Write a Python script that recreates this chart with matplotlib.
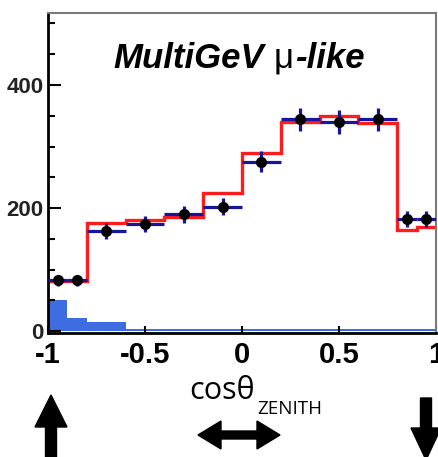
import matplotlib
matplotlib.use('Agg')
import numpy as np
import matplotlib.pyplot as plt
from matplotlib.patches import Polygon

# bin edges in cos(zenith)
edges = [-1.0, -0.9, -0.8, -0.6, -0.4, -0.2, 0.0, 0.2, 0.4, 0.6, 0.8, 0.9, 1.0]

# data points (events) with statistical errors
data = [83, 83, 163, 174, 190, 202, 275, 344, 340, 344, 183, 183]
data_err = [9, 9, 13, 13, 14, 14, 17, 19, 19, 19, 13, 13]

# MC prediction (red) and background (blue fill)
mc_red = [82, 82, 176, 180, 185, 224, 289, 340, 350, 338, 164, 169]
bkg = [50, 22, 15, 3, 3, 3, 3, 3, 3, 3, 3, 3]

xticks = [-1, -0.5, 0, 0.5, 1]
xticklabels = ['-1', '-0.5', '0', '0.5', '1']
yticks = [0, 200, 400]

W, H = 438, 457
fig = plt.figure(figsize=(W / 100, H / 100), dpi=100)

def fx(x):
    return x / W

def fy(y):
    return 1 - y / H

ax = fig.add_axes([fx(48), fy(333), (436 - 48) / W, (333 - 13) / H])

e = np.array(edges)
centers = 0.5 * (e[1:] + e[:-1])
half = 0.5 * (e[1:] - e[:-1])

ax.stairs(bkg, edges, fill=True, color='#3d6de0', baseline=0, zorder=1)
ax.stairs(mc_red, edges, color='#ff1c1c', lw=2.4, baseline=None, zorder=2)
ax.errorbar(centers, data, xerr=half, yerr=data_err, fmt='o', color='black',
            ms=7, ecolor='#16169a', elinewidth=2.3, capsize=0, zorder=3)

ax.set_xlim(-1, 1)
ax.set_ylim(-3, 517)

ax.set_xticks(xticks)
ax.set_xticklabels(xticklabels)
ax.set_yticks(yticks)
ax.set_yticks(np.arange(50, 517, 50), minor=True)
ax.tick_params(axis='y', which='major', direction='in', length=9, width=1.5,
               labelsize=16, pad=3, labelcolor='#222222')
ax.tick_params(axis='y', which='minor', direction='in', length=5, width=1.5)
ax.tick_params(axis='x', which='major', direction='in', length=5, width=1.5,
               labelsize=21, pad=6)
for lab in ax.get_xticklabels() + ax.get_yticklabels():
    lab.set_fontweight('bold')
    lab.set_family('Liberation Sans')

for side in ['left', 'bottom']:
    ax.spines[side].set_linewidth(2.0)
    ax.spines[side].set_color('black')
for side in ['top', 'right']:
    ax.spines[side].set_linewidth(1.5)
    ax.spines[side].set_color('#7a7a7a')

# title made of three pieces: bold italic / regular greek / bold italic
fig.canvas.draw()
r = fig.canvas.get_renderer()
t1 = fig.text(fx(113), fy(68), 'MultiGeV', fontsize=25, fontweight='bold',
              style='italic', family='Liberation Sans', va='baseline')
bb = t1.get_window_extent(r)
t2 = fig.text((bb.x1 + 10) / W, fy(68), 'μ', fontsize=25,
              family='Liberation Sans', va='baseline')
bb = t2.get_window_extent(r)
t3 = fig.text((bb.x1 + 1) / W, fy(68), '-like', fontsize=25, fontweight='bold',
              style='italic', family='Liberation Sans', va='baseline')

# x label: cos theta with subscript
c1 = fig.text(fx(189), fy(399), 'cosθ', fontsize=22, family='Open Sans',
              va='baseline')
bb = c1.get_window_extent(r)
fig.text((bb.x1 + 3) / W, fy(414), 'ZENITH', fontsize=13.5, family='Open Sans',
         va='baseline')

# arrows below the axis
ov = fig.add_axes([0, 0, 1, 1], zorder=-1)
ov.set_xlim(0, W)
ov.set_ylim(H, 0)
ov.axis('off')

up = [(51, 395), (67, 427), (56.5, 427), (56.5, 460), (45.5, 460),
      (45.5, 427), (35, 427)]
ov.add_patch(Polygon(up, closed=True, color='black'))

dbl = [(198, 435), (221, 421), (221, 431), (257, 431), (257, 421), (280, 435),
       (257, 449), (257, 439), (221, 439), (221, 449)]
ov.add_patch(Polygon(dbl, closed=True, color='black'))

down = [(426, 460), (441, 428), (431.5, 428), (431.5, 398), (420.5, 398),
        (420.5, 428), (411, 428)]
ov.add_patch(Polygon(down, closed=True, color='black'))

fig.savefig('out.png', dpi=100)
